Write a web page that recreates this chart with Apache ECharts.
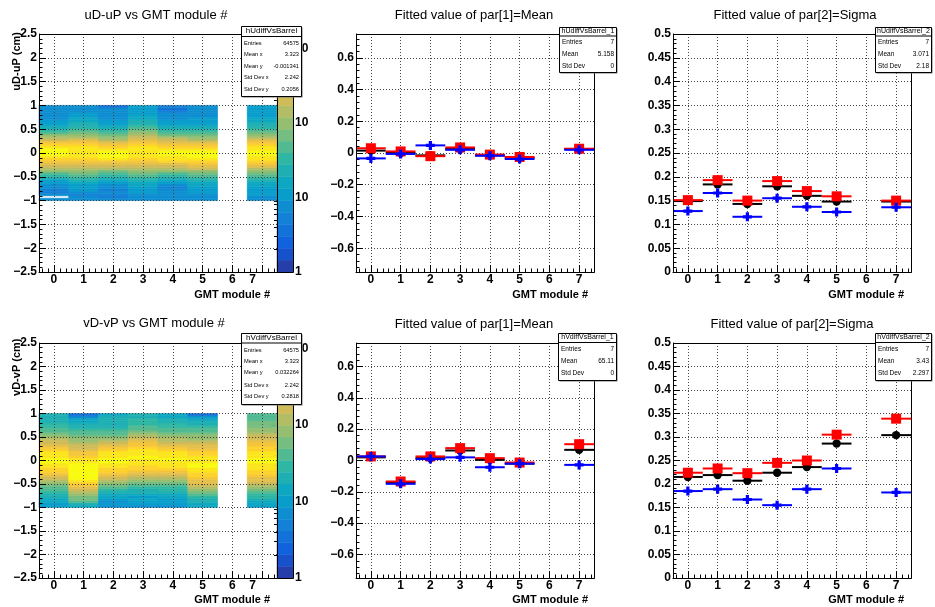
<!DOCTYPE html>
<html>
<head>
<meta charset="utf-8">
<script src="https://cdn.jsdelivr.net/npm/echarts@6/dist/echarts.min.js"></script>
<style>
  html, body { margin: 0; padding: 0; background: #fff; }
  #chart { width: 935px; height: 607px; }
</style>
</head>
<body>
<div id="chart"></div>
<script>
// ---------------- data ----------------
const modules = [0, 1, 2, 3, 4, 5, 7];
// 2D histograms: 40 y-bins of 0.05 cm from -1 to 1 (listed bottom to top)
const yBinStart = -1.0;
const yBinWidth = 0.05;

// uD-uP counts per GMT module
const uMod0 = [8,0,7,5,6,8,9,10,13,22, 35,55,85,130,200,300,480,720,1000,1250, 1350,1150,850,560,360,230,140,90,55,35, 22,15,12,11,9,8,8,8,8,9];
const uMod1 = [8,9,6,8,10,11,13,16,22,30, 42,60,90,140,210,320,470,650,850,1000, 1050,950,760,560,380,250,160,110,70,48, 34,26,21,18,14,11,10,9,9,8];
const uMod2 = [7,6,5,7,5,8,9,11,15,22, 34,52,80,125,200,320,500,760,1080,1300, 1250,1000,700,450,280,170,105,65,42,28, 19,14,11,10,9,8,8,7,7,4];
const uMod3 = [9,8,9,10,11,12,14,17,22,30, 42,62,92,140,210,320,460,640,830,980, 1050,1000,850,650,460,310,200,130,85,58, 40,30,24,19,16,14,12,11,10,10];
const uMod4 = [7,8,7,8,9,6,9,12,16,23, 35,55,85,135,215,340,520,760,1000,1150, 1120,950,700,480,310,190,120,75,48,32, 22,16,12,10,9,8,7,6,4,6];
const uMod5 = [8,9,9,10,11,12,14,18,24,34, 50,75,115,175,270,410,600,840,1080,1200, 1120,900,640,420,260,160,100,64,42,29, 21,16,13,11,10,9,9,8,8,8];
const uMod7 = [8,9,10,11,12,13,15,18,23,32, 46,70,105,160,250,380,560,790,1020,1180, 1200,1060,840,600,400,255,160,100,66,45, 32,24,19,16,14,13,12,11,11,10];

// vD-vP counts per GMT module
const vMod0 = [9,10,12,14,17,22,28,36,48,65, 90,125,175,240,320,420,530,650,760,840, 860,820,720,600,480,370,275,200,145,105, 78,60,46,37,30,26,23,21,20,18];
const vMod1 = [14,22,35,50,65,90,130,190,250,360, 520,700,850,940,1000,1020,1000,930,840,720, 580,470,380,300,240,190,150,120,95,75, 60,48,38,30,24,19,16,13,6,4];
const vMod2 = [7,9,6,9,12,15,20,27,38,55, 80,115,165,235,330,440,570,700,800,860, 870,820,720,590,460,340,240,170,120,85, 62,46,35,28,24,21,19,18,17,16];
const vMod3 = [8,9,10,12,11,14,17,22,30,42, 60,85,120,170,240,330,430,540,650,740, 800,830,800,730,620,500,385,290,210,150, 110,80,60,46,37,31,27,25,23,22];
const vMod4 = [8,9,10,11,13,15,19,25,34,48, 68,98,140,200,280,380,490,610,720,800, 830,800,720,610,490,370,270,195,140,100, 72,55,43,35,30,27,24,20,16,12];
const vMod5 = [12,15,19,24,32,43,58,80,110,150, 205,275,360,460,560,680,780,840,850,820, 740,640,530,430,340,270,210,160,125,95, 72,56,44,35,28,22,17,13,10,4];
const vMod7 = [10,12,15,19,25,33,45,62,85,115, 155,210,280,360,450,550,650,740,810,840, 830,790,720,630,530,440,360,300,240,190, 150,118,95,78,66,58,52,48,45,42];

// z-axis (colour) ranges of the two 2D histograms
const uZmax = 1550;
const vZmax = 1175;

// fitted Gaussian parameters per module
const uMeanBlack  = [0.015, 0.000, -0.015, 0.025, -0.015, -0.030, 0.025];
const uMeanRed    = [0.030, 0.010, -0.020, 0.035, -0.010, -0.025, 0.027];
const uMeanBlue   = [-0.034, -0.006, 0.048, 0.020, -0.017, -0.038, 0.020];
const uSigmaBlack = [0.149, 0.184, 0.143, 0.180, 0.160, 0.148, 0.148];
const uSigmaRed   = [0.151, 0.193, 0.150, 0.191, 0.170, 0.159, 0.150];
const uSigmaBlue  = [0.128, 0.166, 0.116, 0.155, 0.137, 0.126, 0.136];
const vMeanBlack  = [0.020, -0.140, 0.015, 0.064, 0.004, -0.020, 0.068];
const vMeanRed    = [0.026, -0.134, 0.026, 0.079, 0.015, -0.013, 0.104];
const vMeanBlue   = [0.026, -0.149, 0.009, 0.020, -0.043, -0.020, -0.028];
const vSigmaBlack = [0.215, 0.219, 0.207, 0.224, 0.236, 0.286, 0.304];
const vSigmaRed   = [0.224, 0.233, 0.223, 0.245, 0.250, 0.305, 0.339];
const vSigmaBlue  = [0.185, 0.189, 0.167, 0.155, 0.189, 0.233, 0.182];

// texts
const panelTitles = ['uD-uP vs GMT module #', 'Fitted value of par[1]=Mean', 'Fitted value of par[2]=Sigma',
                     'vD-vP vs GMT module #', 'Fitted value of par[1]=Mean', 'Fitted value of par[2]=Sigma'];
const xTitle = 'GMT module #';
const yTitles = ['uD-uP (cm)', 'vD-vP (cm)'];

const statU2D   = ['hUdiffVsBarrel', ['Entries', '64575'], ['Mean x', '3.323'], ['Mean y', '-0.001341'], ['Std Dev x', '2.242'], ['Std Dev y', '0.2056']];
const statUMean = ['hUdiffVsBarrel_1', ['Entries', '7'], ['Mean', '5.158'], ['Std Dev', '0']];
const statUSig  = ['hUdiffVsBarrel_2', ['Entries', '7'], ['Mean', '3.071'], ['Std Dev', '2.18']];
const statV2D   = ['hVdiffVsBarrel', ['Entries', '64575'], ['Mean x', '3.323'], ['Mean y', '0.032264'], ['Std Dev x', '2.242'], ['Std Dev y', '0.2818']];
const statVMean = ['hVdiffVsBarrel_1', ['Entries', '7'], ['Mean', '65.11'], ['Std Dev', '0']];
const statVSig  = ['hVdiffVsBarrel_2', ['Entries', '7'], ['Mean', '3.43'], ['Std Dev', '2.297']];

// ---------------- palette (ROOT "bird") ----------------
const FONT = '"Liberation Sans", Arial, Helvetica, sans-serif';
const NCONT = 20;
const birdStops = [0, 0.125, 0.25, 0.375, 0.5, 0.625, 0.75, 0.875, 1];
const birdR = [0.2082, 0.0592, 0.0780, 0.0232, 0.1802, 0.5301, 0.8186, 0.9956, 0.9764];
const birdG = [0.1664, 0.3599, 0.5041, 0.6419, 0.7178, 0.7492, 0.7328, 0.7862, 0.9832];
const birdB = [0.5293, 0.8684, 0.8385, 0.7914, 0.6425, 0.4662, 0.3499, 0.1968, 0.0539];
function bird(t) {
  let i = 0;
  while (i < birdStops.length - 2 && t > birdStops[i + 1]) i++;
  const f = (t - birdStops[i]) / (birdStops[i + 1] - birdStops[i]);
  const c = a => Math.round(255 * (a[i] + (a[i + 1] - a[i]) * f));
  return 'rgb(' + c(birdR) + ',' + c(birdG) + ',' + c(birdB) + ')';
}
const contourColors = [];
for (let k = 0; k < NCONT; k++) contourColors.push(bird(Math.min(1, (k + 0.99) / NCONT)));
function levelOf(c, zmax) {
  return Math.max(0, Math.min(NCONT - 1, Math.floor(NCONT * Math.log10(c) / Math.log10(zmax))));
}

// ---------------- layout ----------------
const rows = [{ y: 34, h: 238 }, { y: 343, h: 235 }];
const cols = { heat: { x: 39, w: 238 }, pal: { x: 277, w: 16 }, mean: { x: 356, w: 238 }, sigma: { x: 673, w: 238 } };
const gridOrder = ['heat', 'pal', 'mean', 'sigma'];
const grids = [];
rows.forEach(r => gridOrder.forEach(k => grids.push({ left: cols[k].x, top: r.y, width: cols[k].w, height: r.h })));

const gridLine = { type: [1, 2], color: '#444', width: 1 };
const labelBase = { color: '#000', fontFamily: FONT, fontWeight: 'bold', fontSize: 12 };
function fmt(v) {
  if (Math.abs(v) < 1e-9) return '0';
  return String(+v.toFixed(3)).replace('-', '\u2212');
}

function xAxisModules(gi, shiftLast) {
  const label = Object.assign({}, labelBase, { showMinLabel: false, showMaxLabel: false, margin: 2 });
  if (shiftLast) {
    label.formatter = v => (v === 7 ? '{s|7}' : String(v));
    label.rich = { s: Object.assign({}, labelBase, { padding: [0, 19, 0, 0] }) };
  } else {
    label.formatter = v => String(v);
  }
  return {
    type: 'value', gridIndex: gi, min: -0.5, max: 7.5, splitNumber: 8, z: shiftLast ? 3 : 0,
    axisLine: { show: true, onZero: false, lineStyle: { color: '#000', width: 1 } },
    axisTick: { show: true, inside: true, length: 7, lineStyle: { color: '#000' } },
    minorTick: { show: true, splitNumber: 5, length: 3.5, lineStyle: { color: '#000' } },
    splitLine: { show: true, lineStyle: gridLine },
    axisLabel: label
  };
}
function yAxisValue(gi, min, max, extra, hideEnds, z) {
  return Object.assign({
    type: 'value', gridIndex: gi, min: min, max: max, z: z || 0,
    axisLine: { show: true, onZero: false, lineStyle: { color: '#000', width: 1 } },
    axisTick: { show: true, inside: true, length: 7, lineStyle: { color: '#000' } },
    minorTick: { show: true, splitNumber: 5, length: 3.5, lineStyle: { color: '#000' } },
    splitLine: { show: true, lineStyle: gridLine },
    axisLabel: Object.assign({}, labelBase, { margin: 2, formatter: fmt, showMinLabel: !hideEnds, showMaxLabel: !hideEnds })
  }, extra);
}
function xAxisPal(gi) {
  return { type: 'value', gridIndex: gi, min: 0, max: 1, show: false };
}
function yAxisPal(gi, zmax) {
  return {
    type: 'log', gridIndex: gi, min: 1, max: zmax, position: 'right', logBase: 10,
    axisLine: { show: true, lineStyle: { color: '#000' } },
    axisTick: { show: true, inside: true, length: 6, lineStyle: { color: '#000' } },
    minorTick: { show: true, splitNumber: 9, length: 3, lineStyle: { color: '#000' } },
    splitLine: { show: false },
    axisLabel: Object.assign({}, labelBase, { margin: 2, showMaxLabel: false, formatter: v => (v < 5 ? '1' : '10') })
  };
}

// ---------------- series builders ----------------
function heatData(list) {
  const out = [];
  list.forEach((arr, j) => arr.forEach((c, i) => {
    if (c > 0) out.push([modules[j], yBinStart + i * yBinWidth, c]);
  }));
  return out;
}
function heatSeries(gi, list, zmax) {
  return {
    type: 'custom', xAxisIndex: gi, yAxisIndex: gi, data: heatData(list), encode: { x: 0, y: 1 },
    renderItem: function (params, api) {
      const x = api.value(0), y = api.value(1), c = api.value(2);
      const p0 = api.coord([x - 0.5, y + yBinWidth]);
      const p1 = api.coord([x + 0.5, y]);
      const col = contourColors[levelOf(c, zmax)];
      return { type: 'rect', shape: { x: p0[0], y: p0[1], width: p1[0] - p0[0], height: p1[1] - p0[1] },
               style: { fill: col, stroke: col, lineWidth: 0.6 } };
    }
  };
}
function paletteSeries(gi, zmax) {
  const data = [];
  const L = Math.log10(zmax);
  for (let k = 0; k < NCONT; k++) data.push([0.5, Math.pow(10, k * L / NCONT), Math.pow(10, (k + 1) * L / NCONT), k]);
  return {
    type: 'custom', xAxisIndex: gi, yAxisIndex: gi, data: data, encode: { x: 0, y: 1 },
    renderItem: function (params, api) {
      const p0 = api.coord([0, api.value(2)]);
      const p1 = api.coord([1, api.value(1)]);
      const col = contourColors[api.value(3)];
      return { type: 'rect', shape: { x: p0[0], y: p0[1], width: p1[0] - p0[0], height: p1[1] - p0[1] },
               style: { fill: col, stroke: col, lineWidth: 0.5 } };
    }
  };
}
function fitSeries(gi, values, color, marker) {
  return {
    type: 'custom', xAxisIndex: gi, yAxisIndex: gi, encode: { x: 0, y: 1 },
    data: values.map((v, i) => [modules[i], v]),
    renderItem: function (params, api) {
      const x = api.value(0), y = api.value(1);
      const a = api.coord([x - 0.5, y]), b = api.coord([x + 0.5, y]), c = api.coord([x, y]);
      const children = [{ type: 'line', shape: { x1: a[0], y1: a[1], x2: b[0], y2: b[1] }, style: { stroke: color, lineWidth: 2 } }];
      if (marker === 'circle') {
        children.push({ type: 'circle', shape: { cx: c[0], cy: c[1], r: 4.2 }, style: { fill: color } });
      } else if (marker === 'square') {
        children.push({ type: 'rect', shape: { x: c[0] - 5, y: c[1] - 5, width: 10, height: 10 }, style: { fill: color } });
      } else {
        const s = 4.5, t = 1.6, cx = c[0], cy = c[1];
        children.push({ type: 'polygon', shape: { points: [
          [cx - t, cy - s], [cx + t, cy - s], [cx + t, cy - t], [cx + s, cy - t], [cx + s, cy + t], [cx + t, cy + t],
          [cx + t, cy + s], [cx - t, cy + s], [cx - t, cy + t], [cx - s, cy + t], [cx - s, cy - t], [cx - t, cy - t]
        ] }, style: { fill: color } });
      }
      return { type: 'group', children: children };
    }
  };
}

// ---------------- graphic overlays ----------------
const graphics = [];
function text(x, y, str, size, weight, align, vAlign, rotation) {
  graphics.push({
    type: 'text', x: x, y: y, rotation: rotation || 0, z: 120,
    style: { text: str, fill: '#000', fontFamily: FONT, fontSize: size, fontWeight: weight,
             align: align, verticalAlign: vAlign, textAlign: align, textVerticalAlign: vAlign }
  });
}
// frames round every plot area
grids.forEach(g => graphics.push({
  type: 'rect', z: 50, silent: true,
  shape: { x: g.left + 0.5, y: g.top + 0.5, width: g.width, height: g.height },
  style: { fill: null, stroke: '#000', lineWidth: 1 }
}));
// panel titles
const titleX = [156, 474, 795, 154, 474, 792];
const titleY = [15, 15, 15, 323, 324, 324];
panelTitles.forEach((t, i) => text(titleX[i], titleY[i], t, 13, 'normal', 'center', 'middle'));
// axis titles
[0, 1].forEach(r => {
  const yb = r === 0 ? 295 : 600;
  text(270, yb, xTitle, 11, 'bold', 'right', 'middle');
  text(588, yb, xTitle, 11, 'bold', 'right', 'middle');
  text(904, yb, xTitle, 11, 'bold', 'right', 'middle');
  text(16.5, r === 0 ? 32 : 338.5, yTitles[r], 11, 'bold', 'right', 'middle', Math.PI / 2);
});
// statistics boxes
function statBox(stat, box) {
  graphics.push({ type: 'rect', z: 100, shape: { x: box.x + 1.5, y: box.y + 1.5, width: box.w, height: box.h }, style: { fill: '#777' } });
  graphics.push({ type: 'rect', z: 101, shape: { x: box.x + 0.5, y: box.y + 0.5, width: box.w, height: box.h }, style: { fill: '#fff', stroke: '#000', lineWidth: 1 } });
  graphics.push({ type: 'line', z: 102, shape: { x1: box.x + 0.5, y1: box.sep + 0.5, x2: box.x + box.w + 0.5, y2: box.sep + 0.5 }, style: { stroke: '#000', lineWidth: 1 } });
  text(box.x + box.w / 2 + 0.5, box.ty, stat[0], box.ts, 'normal', 'center', 'middle');
  for (let i = 1; i < stat.length; i++) {
    text(box.x + 3, box.rows[i - 1], stat[i][0], box.rs, 'normal', 'left', 'middle');
    text(box.x + box.w - 2, box.rows[i - 1], stat[i][1], box.rs, 'normal', 'right', 'middle');
  }
}
statBox(statU2D,   { x: 241, y: 26,  w: 60, h: 70, sep: 36,  ty: 31,    ts: 8, rs: 5.7, rows: [43, 54.7, 66, 77.3, 89] });
statBox(statV2D,   { x: 241, y: 333, w: 60, h: 71, sep: 342.5, ty: 337.5, ts: 8, rs: 5.7, rows: [350, 361.7, 372.7, 385, 396.7] });
statBox(statUMean, { x: 559, y: 27,  w: 57, h: 45, sep: 35.5, ty: 31,    ts: 7, rs: 6.5, rows: [42.7, 54.3, 66] });
statBox(statUSig,  { x: 875, y: 27,  w: 56, h: 45, sep: 35.5, ty: 31,    ts: 7, rs: 6.5, rows: [42.7, 54.3, 66] });
statBox(statVMean, { x: 558, y: 333, w: 58, h: 47, sep: 342,  ty: 337.5, ts: 7, rs: 6.5, rows: [349.3, 361.7, 373.3] });
statBox(statVSig,  { x: 875, y: 333, w: 56, h: 47, sep: 342,  ty: 337.5, ts: 7, rs: 6.5, rows: [349.3, 361.7, 373.3] });

// ---------------- chart ----------------
const chart = echarts.init(document.getElementById('chart'), null, { renderer: 'canvas' });
chart.setOption({
  animation: false,
  backgroundColor: '#fff',
  grid: grids.map(g => Object.assign({ show: false, containLabel: false, outerBoundsMode: 'none' }, g)),
  xAxis: [
    xAxisModules(0, true), xAxisPal(1), xAxisModules(2, false), xAxisModules(3, false),
    xAxisModules(4, true), xAxisPal(5), xAxisModules(6, false), xAxisModules(7, false)
  ],
  yAxis: [
    yAxisValue(0, -2.5, 2.5, { interval: 0.5 }, false, 3),
    yAxisPal(1, uZmax),
    yAxisValue(2, -0.75, 0.75, { splitNumber: 7 }, true),
    yAxisValue(3, 0, 0.5, { interval: 0.05 }, false),
    yAxisValue(4, -2.5, 2.5, { interval: 0.5 }, false, 3),
    yAxisPal(5, vZmax),
    yAxisValue(6, -0.75, 0.75, { splitNumber: 7 }, true),
    yAxisValue(7, 0, 0.5, { interval: 0.05 }, false)
  ],
  series: [
    heatSeries(0, [uMod0, uMod1, uMod2, uMod3, uMod4, uMod5, uMod7], uZmax),
    paletteSeries(1, uZmax),
    fitSeries(2, uMeanBlack, '#000000', 'circle'),
    fitSeries(2, uMeanRed, '#ff0000', 'square'),
    fitSeries(2, uMeanBlue, '#0000ff', 'cross'),
    fitSeries(3, uSigmaBlack, '#000000', 'circle'),
    fitSeries(3, uSigmaRed, '#ff0000', 'square'),
    fitSeries(3, uSigmaBlue, '#0000ff', 'cross'),
    heatSeries(4, [vMod0, vMod1, vMod2, vMod3, vMod4, vMod5, vMod7], vZmax),
    paletteSeries(5, vZmax),
    fitSeries(6, vMeanBlack, '#000000', 'circle'),
    fitSeries(6, vMeanRed, '#ff0000', 'square'),
    fitSeries(6, vMeanBlue, '#0000ff', 'cross'),
    fitSeries(7, vSigmaBlack, '#000000', 'circle'),
    fitSeries(7, vSigmaRed, '#ff0000', 'square'),
    fitSeries(7, vSigmaBlue, '#0000ff', 'cross')
  ],
  graphic: { elements: graphics }
});
</script>
</body>
</html>
